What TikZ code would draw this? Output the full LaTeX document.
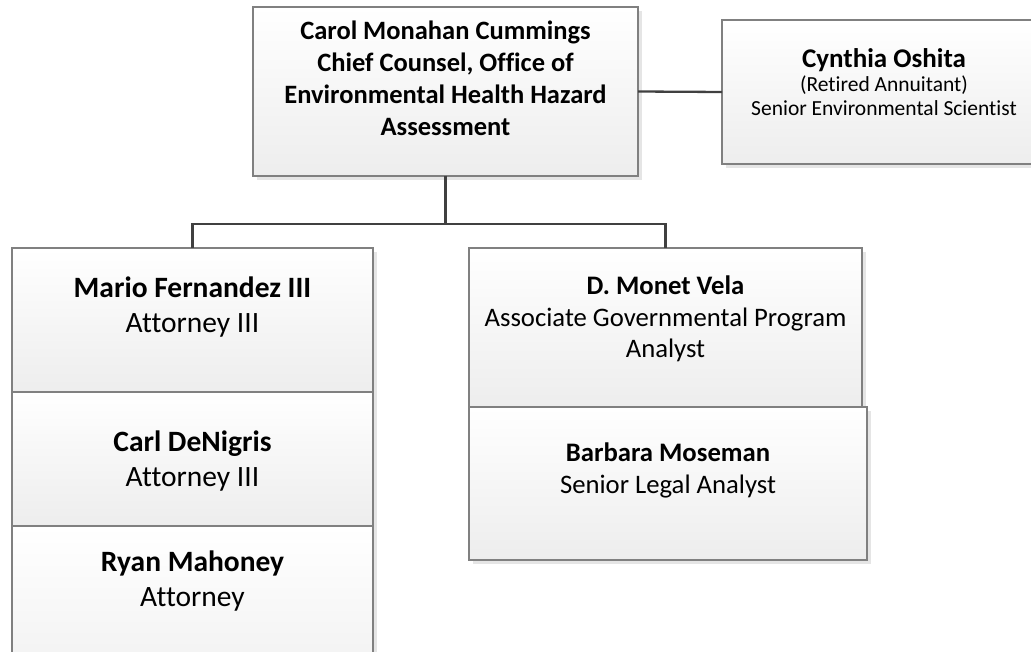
\documentclass[tikz,border=0pt]{standalone}
\usepackage{fontspec}
\setmainfont[Ligatures=NoCommon]{Carlito}
\usepackage{tikz}
\usetikzlibrary{positioning,shadows}

\tikzset{
	staffbox/.style = {draw=black!50, line width=1.2pt, inner sep=0pt, outer sep=0pt,
		anchor=north west, top color=white, bottom color=black!7,
		drop shadow={shadow xshift=4pt, shadow yshift=-4pt, fill=black, opacity=0.10}},
	stack/.style = {staffbox, anchor=north, below=0pt of #1},
	lbl/.style = {align=center, inner sep=0pt, anchor=center},
	link/.style = {draw=black!75, line width=2.3pt}
}

\begin{document}
\begin{tikzpicture}[x=1pt, y=-1pt]

	\useasboundingbox (0,0) rectangle (1031,652);
	\clip (0,0) rectangle (1031,652);

	% boxes
	\node[staffbox, minimum width=385pt, minimum height=169pt] (chief) at (253,7) {};
	\node[staffbox, minimum width=330pt, minimum height=144pt] (oshita) at (722,20) {};

	\node[staffbox, minimum width=361pt, minimum height=144pt] (mario) at (12,248) {};
	\node[stack=mario, minimum width=361pt, minimum height=134pt] (carl) {};
	\node[stack=carl, minimum width=361pt, minimum height=200pt] (ryan) {};

	\node[staffbox, minimum width=393pt, minimum height=159pt] (monet) at (469,248) {};
	\node[staffbox, minimum width=398pt, minimum height=153pt] (barbara) at (469,407) {};

	% texts
	\node[lbl, font=\fontsize{26.5}{32}\selectfont\bfseries] (chieftxt) at ([yshift=-71pt]chief.north)
		{Carol Monahan Cummings\\Chief Counsel, Office of\\Environmental Health Hazard\\Assessment};
	\node[lbl, font=\fontsize{21.5}{24}\selectfont] (oshitatxt) at ([yshift=-62pt]oshita.north -| 884,0)
		{{\fontsize{27}{27}\selectfont\bfseries Cynthia Oshita}\\(Retired Annuitant)\\Senior Environmental Scientist};

	\node[lbl, font=\fontsize{29.5}{35}\selectfont] (mariotxt) at ([yshift=-59pt]mario.north)
		{\textbf{Mario Fernandez III}\\Attorney III};
	\node[lbl, font=\fontsize{29.5}{35}\selectfont] (carltxt) at ([yshift=-69pt]carl.north)
		{\textbf{Carl DeNigris}\\Attorney III};
	\node[lbl, font=\fontsize{29.5}{35}\selectfont] (ryantxt) at ([yshift=-55pt]ryan.north)
		{\textbf{Ryan Mahoney}\\Attorney};

	\node[lbl, font=\fontsize{26.7}{31.5}\selectfont] (monettxt) at ([yshift=-71pt]monet.north)
		{\textbf{D. Monet Vela}\\Associate Governmental Program\\Analyst};
	\node[lbl, font=\fontsize{26.7}{32}\selectfont] (barbaratxt) at ([yshift=-63pt]barbara.north)
		{\textbf{Barbara Moseman}\\Senior Legal Analyst};

	% connectors
	\coordinate (fork) at (chief.south |- 0,224);
	\draw[link] (chief.east) -- (oshita.west);
	\draw[link] (chief.south) -- (fork);
	\draw[link] (mario.north) |- (fork) -| (monet.north);

\end{tikzpicture}
\end{document}
